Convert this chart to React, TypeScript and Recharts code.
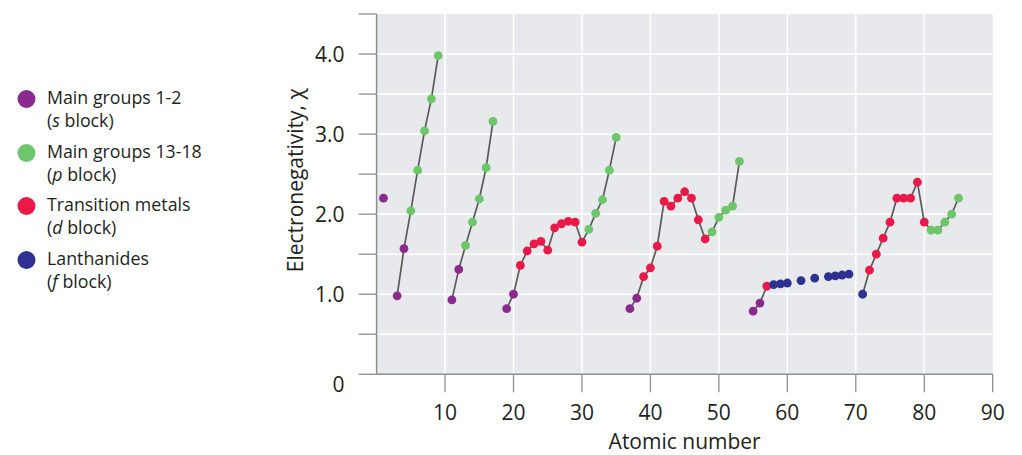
import React from 'react';
import { ScatterChart, Scatter, XAxis, YAxis, CartesianGrid, Label } from 'recharts';

const atomicNumbers = [
  1,
  3, 4, 5, 6, 7, 8, 9,
  11, 12, 13, 14, 15, 16, 17,
  19, 20, 21, 22, 23, 24, 25, 26, 27, 28, 29, 30, 31, 32, 33, 34, 35,
  37, 38, 39, 40, 41, 42, 43, 44, 45, 46, 47, 48, 49, 50, 51, 52, 53,
  55, 56, 57, 58, 59, 60, 62, 64, 66, 67, 68, 69,
  71, 72, 73, 74, 75, 76, 77, 78, 79, 80, 81, 82, 83, 84, 85,
];

const electronegativity = [
  2.2,
  0.98, 1.57, 2.04, 2.55, 3.04, 3.44, 3.98,
  0.93, 1.31, 1.61, 1.9, 2.19, 2.58, 3.16,
  0.82, 1.0, 1.36, 1.54, 1.63, 1.66, 1.55, 1.83, 1.88, 1.91, 1.9, 1.65, 1.81, 2.01, 2.18, 2.55, 2.96,
  0.82, 0.95, 1.22, 1.33, 1.6, 2.16, 2.1, 2.2, 2.28, 2.2, 1.93, 1.69, 1.78, 1.96, 2.05, 2.1, 2.66,
  0.79, 0.89, 1.1, 1.12, 1.13, 1.14, 1.17, 1.2, 1.22, 1.23, 1.24, 1.25,
  1.0, 1.3, 1.5, 1.7, 1.9, 2.2, 2.2, 2.2, 2.4, 1.9, 1.8, 1.8, 1.9, 2.0, 2.2,
];

const blocks = [
  's',
  's', 's', 'p', 'p', 'p', 'p', 'p',
  's', 's', 'p', 'p', 'p', 'p', 'p',
  's', 's', 'd', 'd', 'd', 'd', 'd', 'd', 'd', 'd', 'd', 'd', 'p', 'p', 'p', 'p', 'p',
  's', 's', 'd', 'd', 'd', 'd', 'd', 'd', 'd', 'd', 'd', 'd', 'p', 'p', 'p', 'p', 'p',
  's', 's', 'd', 'f', 'f', 'f', 'f', 'f', 'f', 'f', 'f', 'f',
  'f', 'd', 'd', 'd', 'd', 'd', 'd', 'd', 'd', 'd', 'p', 'p', 'p', 'p', 'p',
];

// connected runs of atomic numbers (first, last)
const lineRuns: [number, number][] = [
  [3, 9],
  [11, 17],
  [19, 35],
  [37, 53],
  [55, 57],
  [71, 85],
];

const xTicks = [10, 20, 30, 40, 50, 60, 70, 80, 90];
const yTicks = [0, 0.5, 1, 1.5, 2, 2.5, 3, 3.5, 4, 4.5];
const gridX = [10, 20, 30, 40, 50, 60, 70, 80];
const gridY = [0.5, 1, 1.5, 2, 2.5, 3, 3.5, 4];

const blockKeys = ['s', 'p', 'd', 'f'];
const blockColors: Record<string, string> = {
  s: '#8b2a8d',
  p: '#6ec66b',
  d: '#ea1a48',
  f: '#2d3191',
};
const legendTitles = ['Main groups 1-2', 'Main groups 13-18', 'Transition metals', 'Lanthanides'];
const legendLetters = ['s', 'p', 'd', 'f'];

const FONT = '"Open Sans", sans-serif';
const TEXT = '#231f20';
const AXIS = '#8f8f8f';

const points = atomicNumbers.map((z, i) => ({ z, chi: electronegativity[i], block: blocks[i] }));
const runData = lineRuns.map(([a, b]) => points.filter((p) => p.z >= a && p.z <= b));
const blockData = blockKeys.map((k) => points.filter((p) => p.block === k));

const XTick = (props: any) => {
  const { x, y, payload } = props;
  return (
    <text x={x} y={y} dy={28} textAnchor="middle" fontSize={21} fontFamily={FONT} fill={TEXT}>
      {payload.value}
    </text>
  );
};

const YTick = (props: any) => {
  const { x, y, payload } = props;
  const v = payload.value as number;
  let label = '';
  if (v === 0) label = '0';
  else if (Number.isInteger(v) && v <= 4) label = v.toFixed(1);
  if (!label) return <g />;
  return (
    <text x={x} y={y} dy={v === 0 ? 17.5 : 7.5} textAnchor="end" fontSize={21} fontFamily={FONT} fill={TEXT}>
      {label}
    </text>
  );
};

const Legend = () => (
  <div style={{ position: 'absolute', left: 0, top: 0, fontFamily: FONT, fontSize: 17.8, color: TEXT }}>
    {legendTitles.map((t, i) => (
      <div key={t} style={{ position: 'absolute', left: 0, top: 87 + i * 53.5, width: 240 }}>
        <svg width={40} height={26} style={{ position: 'absolute', left: 0, top: 0 }}>
          <circle cx={26.5} cy={12} r={9} fill={blockColors[blockKeys[i]]} />
        </svg>
        <div style={{ position: 'absolute', left: 47, top: -1, lineHeight: '23px', whiteSpace: 'nowrap' }}>
          <div>{t}</div>
          <div>
            (<i>{legendLetters[i]}</i> block)
          </div>
        </div>
      </div>
    ))}
  </div>
);

export default function App() {
  return (
    <div style={{ position: 'absolute', left: 0, top: 0, width: 1022, height: 455, background: '#fff' }}>
      <ScatterChart
        width={1022}
        height={455}
        margin={{ top: 14, right: 29.3, left: 316.6, bottom: 40.7 }}
      >
        <CartesianGrid
          fill="#e8e9ec"
          stroke="#ffffff"
          strokeWidth={1.6}
          horizontalValues={gridY}
          verticalValues={gridX}
        />
        <XAxis
          type="number"
          dataKey="z"
          domain={[0, 90]}
          ticks={xTicks}
          interval={0}
          height={40}
          tickSize={18}
          tickMargin={0}
          tick={<XTick />}
          axisLine={{ stroke: AXIS, strokeWidth: 1.5 }}
          tickLine={{ stroke: AXIS, strokeWidth: 1.3 }}
        >
          <Label
            content={(p: any) => {
              const vb = p.viewBox;
              return (
                <text x={vb.x + vb.width / 2} y={vb.y + 75} textAnchor="middle" fontSize={21} fontFamily={FONT} fill={TEXT}>
                  Atomic number
                </text>
              );
            }}
          />
        </XAxis>
        <YAxis
          type="number"
          dataKey="chi"
          domain={[0, 4.5]}
          ticks={yTicks}
          interval={0}
          width={60}
          tickSize={18}
          tickMargin={14}
          tick={<YTick />}
          axisLine={{ stroke: AXIS, strokeWidth: 1.5 }}
          tickLine={{ stroke: AXIS, strokeWidth: 1.3 }}
        >
          <Label
            content={(p: any) => {
              const vb = p.viewBox;
              const cx = vb.x - 13.6;
              const cy = vb.y + vb.height / 2 - 14;
              return (
                <text
                  x={cx}
                  y={cy}
                  transform={`rotate(-90, ${cx}, ${cy})`}
                  textAnchor="middle"
                  fontSize={21}
                  fontFamily={FONT}
                  fill={TEXT}
                >
                  Electronegativity, χ
                </text>
              );
            }}
          />
        </YAxis>
        {runData.map((d, i) => (
          <Scatter
            key={`run${i}`}
            data={d}
            line={{ stroke: '#5b5b5b', strokeWidth: 1.7 }}
            lineType="joint"
            shape={() => <g />}
            isAnimationActive={false}
          />
        ))}
        {blockData.map((d, i) => (
          <Scatter
            key={`blk${i}`}
            data={d}
            isAnimationActive={false}
            shape={(p: any) => <circle cx={p.cx} cy={p.cy} r={4.4} fill={blockColors[blockKeys[i]]} />}
          />
        ))}
      </ScatterChart>
      <Legend />
    </div>
  );
}
